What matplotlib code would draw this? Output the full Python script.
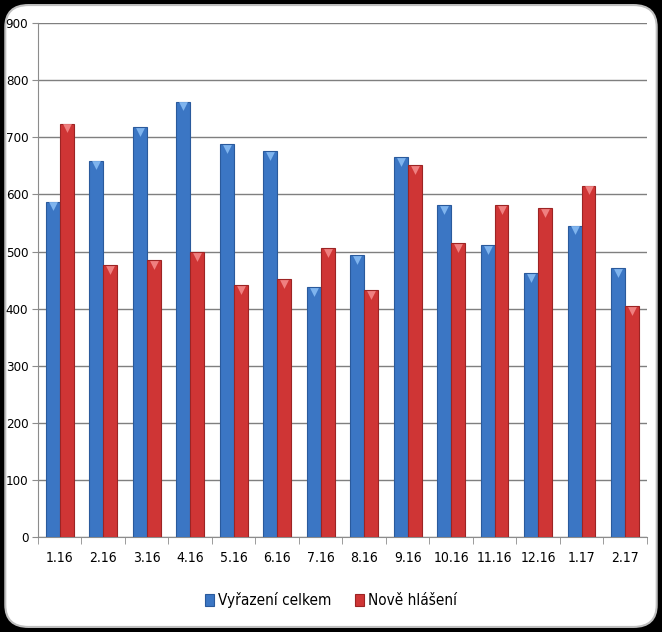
import numpy as np
import matplotlib
matplotlib.use("Agg")
import matplotlib.pyplot as plt
from matplotlib.patches import FancyBboxPatch

months = ['1.16', '2.16', '3.16', '4.16', '5.16', '6.16', '7.16',
          '8.16', '9.16', '10.16', '11.16', '12.16', '1.17', '2.17']
vyrazeni = [587, 659, 718, 762, 688, 676, 438, 494, 665, 581, 511, 462, 545, 471]
nove = [724, 476, 485, 499, 441, 452, 506, 432, 651, 515, 581, 576, 615, 404]

plt.rcParams['font.family'] = ['DejaVu Sans']
plt.rcParams['font.stretch'] = 'condensed'

blue = '#3b76c4'
blue_edge = '#2a5a9c'
red = '#cf3535'
red_edge = '#9c2424'

fig = plt.figure(figsize=(6.62, 6.32), dpi=100)
fig.patch.set_facecolor('black')
panel = FancyBboxPatch((0.008, 0.008), 0.984, 0.984,
                       boxstyle='round,pad=0,rounding_size=0.035',
                       transform=fig.transFigure, facecolor='white',
                       edgecolor='#bfbfbf', linewidth=1.5, zorder=-5)
fig.patches.append(panel)

ax = fig.add_axes([0.0574, 0.150, 0.9196, 0.8136])
ax.set_zorder(2)
ax.set_facecolor('none')

x = np.arange(len(months))
w = 0.32
ax.bar(x - w / 2, vyrazeni, w, color=blue, edgecolor=blue_edge, linewidth=0.8,
       label='Vyřazení celkem', zorder=3)
ax.bar(x + w / 2, nove, w, color=red, edgecolor=red_edge, linewidth=0.8,
       label='Nově hlášení', zorder=3)
# light triangle caps on top of the bars
ax.scatter(x - w / 2, np.array(vyrazeni) - 8, marker='v', s=40, color='#7fb4ee', zorder=4, linewidths=0)
ax.scatter(x + w / 2, np.array(nove) - 8, marker='v', s=40, color='#ef8080', zorder=4, linewidths=0)

ax.set_ylim(0, 900)
ax.set_xlim(-0.5, len(months) - 0.5)
ax.set_yticks(range(0, 901, 100))
ax.yaxis.grid(True, color='#7f7f7f', linewidth=1, zorder=1)
ax.set_axisbelow(True)

ax.set_xticks(x)
ax.set_xticklabels(months, fontsize=10)
ax.set_xticks(np.arange(-0.5, len(months), 1), minor=True)
ax.tick_params(axis='x', which='major', length=0, pad=10)
ax.tick_params(axis='x', which='minor', length=5, color='#8c8c8c')
ax.tick_params(axis='y', length=4, color='#8c8c8c', labelsize=9.5, pad=3)

for s in ['top', 'right']:
    ax.spines[s].set_visible(False)
ax.spines['left'].set_color('#8c8c8c')
ax.spines['bottom'].set_color('#8c8c8c')

leg = fig.legend(loc='center', bbox_to_anchor=(0.5, 0.05), ncol=2, frameon=False,
                 fontsize=11, handlelength=0.6, handleheight=0.9, handletextpad=0.3,
                 columnspacing=1.5)

fig.savefig('out.png', dpi=100, facecolor=fig.get_facecolor())
